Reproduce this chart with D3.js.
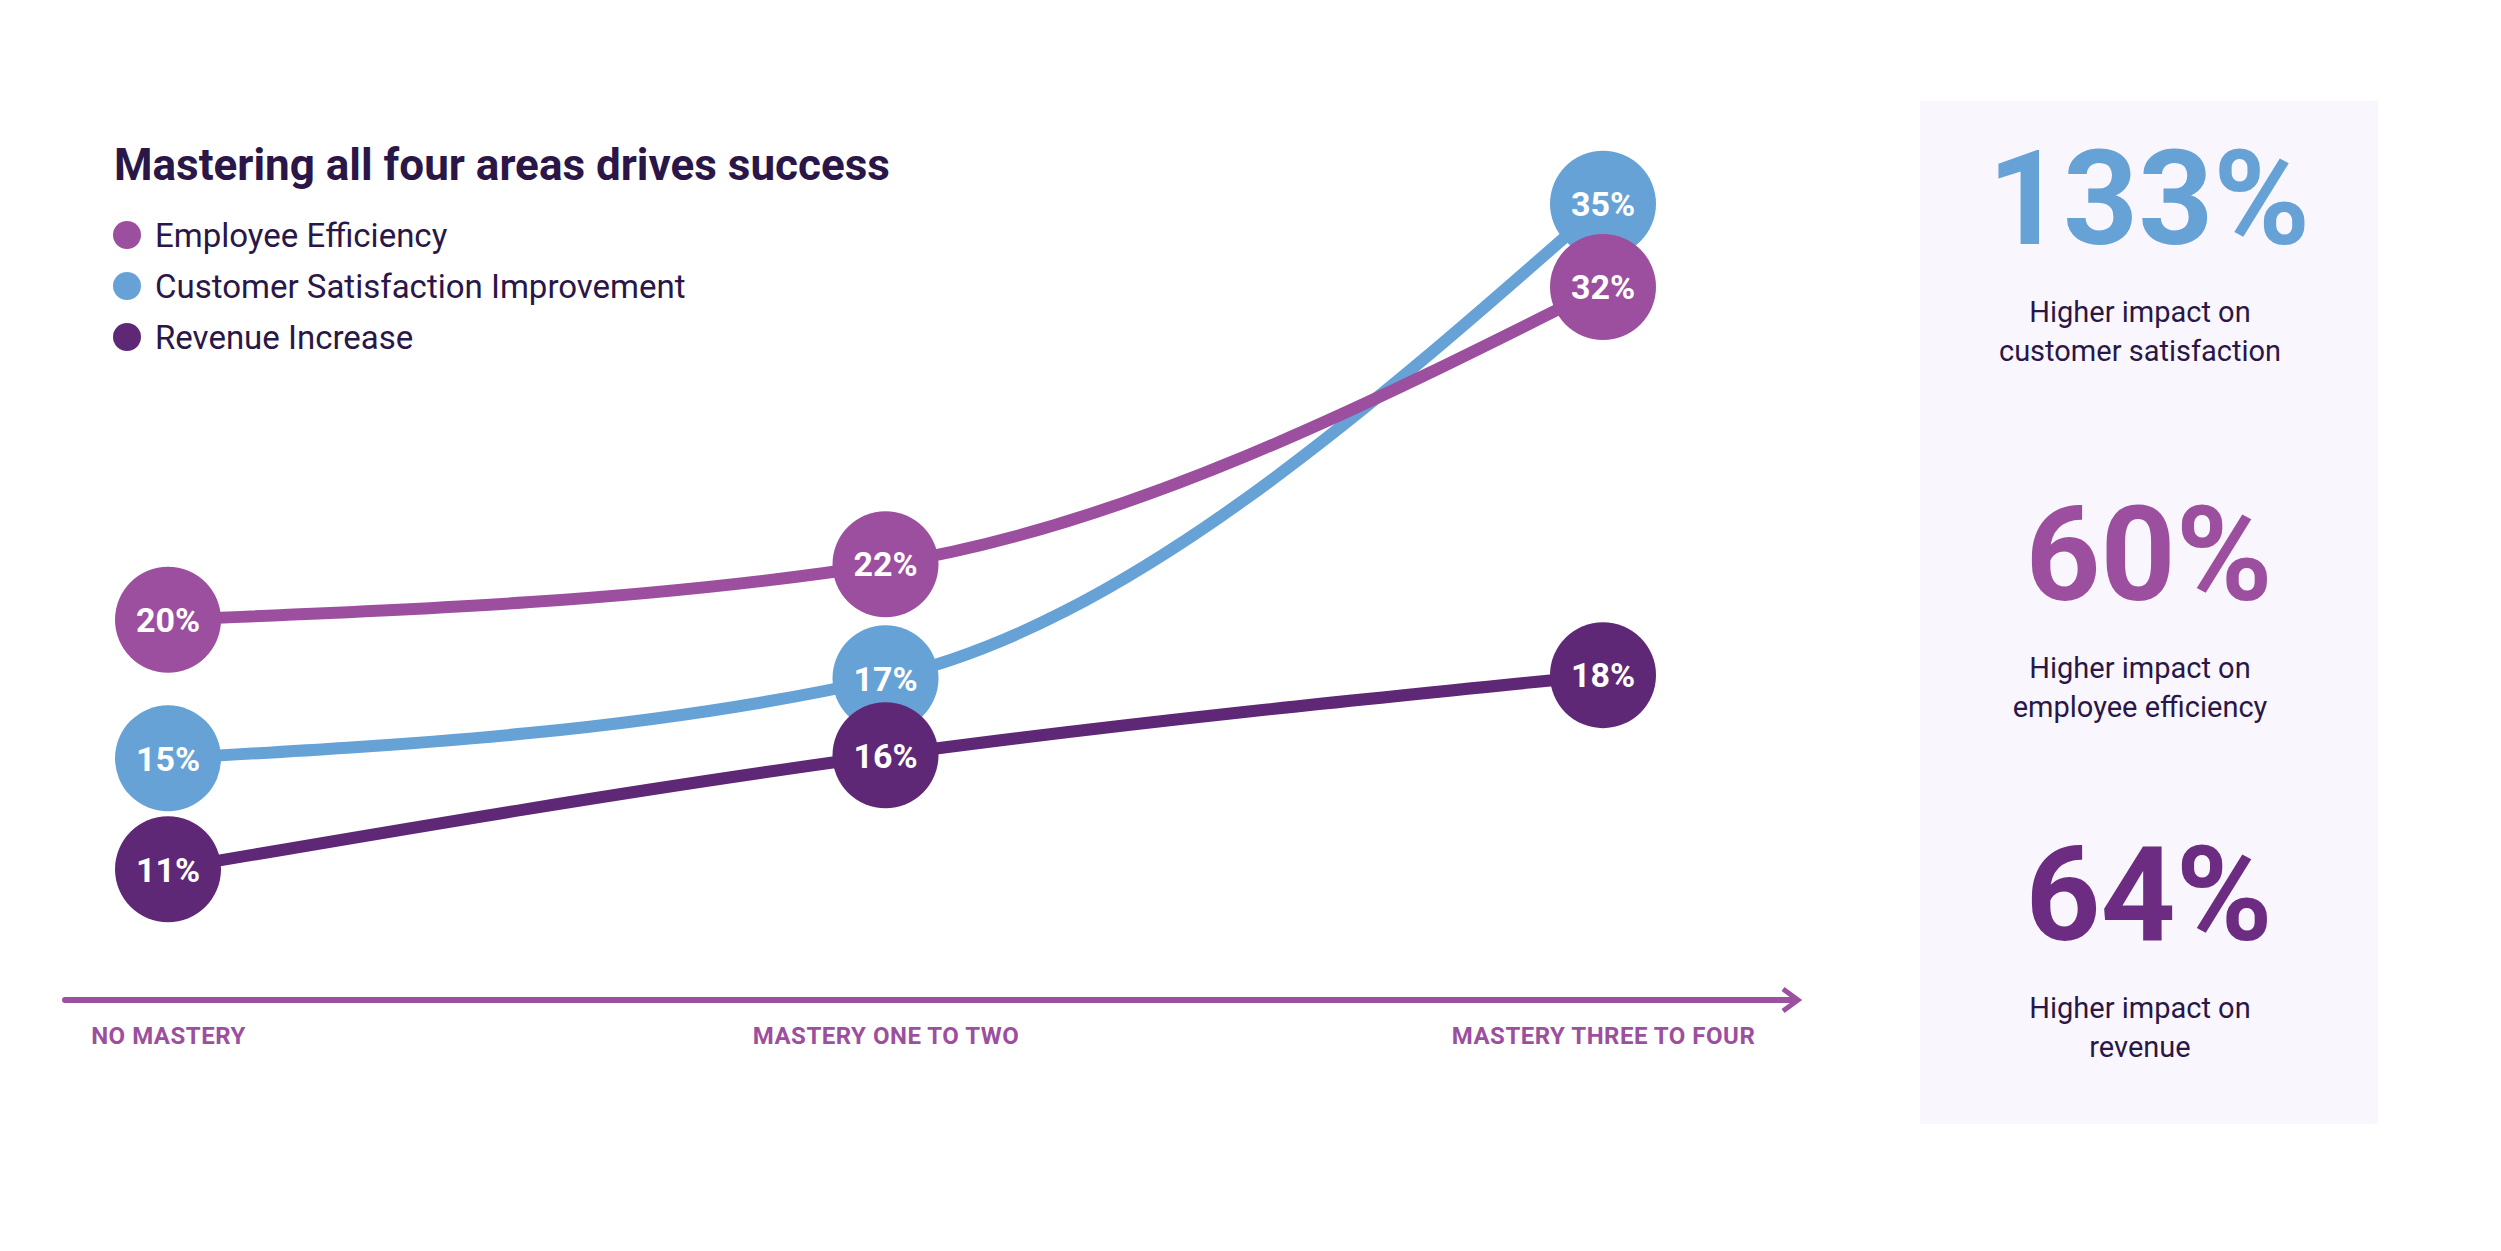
<!DOCTYPE html>
<html>
<head>
<meta charset="utf-8">
<script src="https://cdnjs.cloudflare.com/ajax/libs/d3/7.8.5/d3.min.js"></script>
<style>
  body { margin: 0; background: #fff; }
  svg { display: block; font-family: Roboto, "Open Sans", sans-serif; }
</style>
</head>
<body>
<div id="chart"></div>
<script>
// categories on the x axis
var categories = ["NO MASTERY", "MASTERY ONE TO TWO", "MASTERY THREE TO FOUR"];

// series values (%)
var employeeEfficiency   = [20, 22, 32];
var customerSatisfaction = [15, 17, 35];
var revenueIncrease      = [11, 16, 18];

var legendNames  = ["Employee Efficiency", "Customer Satisfaction Improvement", "Revenue Increase"];
var legendColors = ["#9c4f9e", "#67a2d7", "#5e2876"];

// side panel
var impactValues = ["133%", "60%", "64%"];
var impactColors = ["#67a2d7", "#9c4f9e", "#6b2c82"];
var impactLabels = [
  ["Higher impact on", "customer satisfaction"],
  ["Higher impact on", "employee efficiency"],
  ["Higher impact on", "revenue"]
];

var width = 2501, height = 1251;
var ink = "#2a1748";

var svg = d3.select("#chart").append("svg")
    .attr("width", width)
    .attr("height", height);

svg.append("rect").attr("width", width).attr("height", height).attr("fill", "#fff");

var x = d3.scalePoint()
    .domain(categories)
    .range([168, 1603]);

var y = d3.scaleLinear()
    .domain([10, 36])
    .range([897, 176]);

var r = 53;

// draw order: customer, revenue, employee (employee ends on top)
var series = [
  { name: "customer", values: customerSatisfaction, color: "#67a2d7" },
  { name: "revenue",  values: revenueIncrease,      color: "#5e2876" },
  { name: "employee", values: employeeEfficiency,   color: "#9c4f9e" }
];

series.forEach(function(s) {
  s.points = s.values.map(function(v, i) {
    return { v: v, cat: categories[i], px: x(categories[i]), py: y(v) };
  });
});

// push apart markers in the same column that would sit on top of each other
var minGap = 77;
categories.forEach(function(c, i) {
  var col = series.map(function(s) { return s.points[i]; })
    .sort(function(a, b) { return a.py - b.py; });
  for (var k = 0; k < 10; k++) {
    for (var j = 1; j < col.length; j++) {
      var gap = col[j].py - col[j - 1].py;
      if (gap < minGap) {
        var shift = (minGap - gap) / 2;
        col[j - 1].py -= shift;
        col[j].py += shift;
      }
    }
  }
});

var line = d3.line()
    .x(function(d) { return d.px; })
    .y(function(d) { return d.py; })
    .curve(d3.curveMonotoneX);

var groups = svg.selectAll("g.series")
    .data(series)
  .enter().append("g")
    .attr("class", "series");

groups.append("path")
    .attr("d", function(d) { return line(d.points); })
    .attr("fill", "none")
    .attr("stroke", function(d) { return d.color; })
    .attr("stroke-width", 12);

var dots = groups.selectAll("g.dot")
    .data(function(d) { return d.points.map(function(p) { p.color = d.color; return p; }); })
  .enter().append("g")
    .attr("class", "dot")
    .attr("transform", function(d) { return "translate(" + d.px + "," + d.py + ")"; });

dots.append("circle")
    .attr("r", r)
    .attr("fill", function(d) { return d.color; });

dots.append("text")
    .attr("text-anchor", "middle")
    .attr("dy", "0.36em")
    .attr("fill", "#fff")
    .style("font-size", "34px")
    .style("font-weight", 700)
    .text(function(d) { return d.v + "%"; });

// x axis with arrow
var axisY = 1000;
var axisColor = "#9b51a0";

svg.append("line")
    .attr("x1", 65).attr("x2", 1795)
    .attr("y1", axisY).attr("y2", axisY)
    .attr("stroke", axisColor)
    .attr("stroke-width", 6)
    .attr("stroke-linecap", "round");

svg.append("path")
    .attr("d", "M1783," + (axisY - 11) + "L1798," + axisY + "L1783," + (axisY + 11))
    .attr("fill", "none")
    .attr("stroke", axisColor)
    .attr("stroke-width", 5);

var xAxis = svg.append("g")
    .attr("transform", "translate(0," + axisY + ")")
    .call(d3.axisBottom(x).tickSize(0).tickPadding(27));

xAxis.select(".domain").remove();
xAxis.selectAll("text")
    .attr("fill", "#9c4f9e")
    .style("font-family", "Roboto")
    .style("font-size", "24px")
    .style("letter-spacing", "0.5px")
    .style("font-weight", 700);

// title + legend
svg.append("text")
    .attr("x", 114)
    .attr("y", 180)
    .attr("fill", ink)
    .style("font-size", "44px")
    .style("font-weight", 700)
    .text("Mastering all four areas drives success");

var legend = svg.selectAll("g.legend")
    .data(legendNames)
  .enter().append("g")
    .attr("class", "legend")
    .attr("transform", function(d, i) { return "translate(127," + (235 + i * 51) + ")"; });

legend.append("circle")
    .attr("r", 14)
    .attr("fill", function(d, i) { return legendColors[i]; });

legend.append("text")
    .attr("x", 28)
    .attr("dy", "0.35em")
    .attr("fill", ink)
    .style("font-size", "33px")
    .text(function(d) { return d; });

// side panel
var panel = svg.append("g");

panel.append("rect")
    .attr("x", 1920).attr("y", 101)
    .attr("width", 2378 - 1920).attr("height", 1124 - 101)
    .attr("fill", "#f9f7fd");

var numBase = [244, 600, 940];
var blocks = panel.selectAll("g.block")
    .data(impactValues)
  .enter().append("g")
    .attr("class", "block");

blocks.append("text")
    .attr("x", 2149)
    .attr("y", function(d, i) { return numBase[i]; })
    .attr("text-anchor", "middle")
    .attr("fill", function(d, i) { return impactColors[i]; })
    .style("font-size", "131px")
    .style("font-weight", 700)
    .text(function(d) { return d; });

blocks.each(function(d, i) {
  d3.select(this).selectAll("text.sub")
      .data(impactLabels[i])
    .enter().append("text")
      .attr("class", "sub")
      .attr("x", 2140)
      .attr("y", function(t, j) { return numBase[i] + 78 + j * 39; })
      .attr("text-anchor", "middle")
      .attr("fill", ink)
      .style("font-size", "29px")
      .text(function(t) { return t; });
});
</script>
</body>
</html>
